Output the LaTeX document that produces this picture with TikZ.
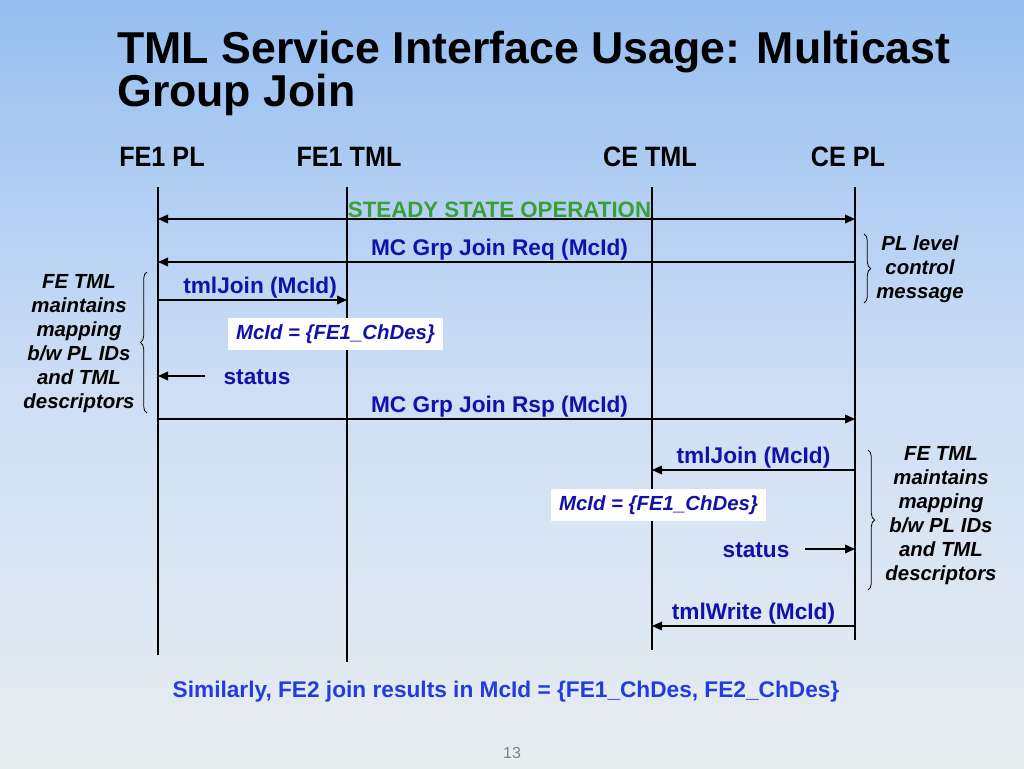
\documentclass[tikz,border=0pt]{standalone}
\usepackage{fontspec}
\setmainfont{Liberation Sans}
\newfontfamily\narrowfont{Liberation Sans}[FakeStretch=0.9]
\usetikzlibrary{arrows.meta,decorations.pathreplacing}

\definecolor{msgblue}{RGB}{18,18,170}
\definecolor{notblue}{RGB}{35,60,225}
\definecolor{stgreen}{RGB}{55,160,55}
\definecolor{skytop}{RGB}{150,190,240}
\definecolor{skymid}{RGB}{205,222,245}
\definecolor{skybot}{RGB}{232,238,240}

\newcommand{\msgfont}{\fontsize{17}{20}\selectfont\bfseries}
\newcommand{\notefont}{\fontsize{15.3}{18}\selectfont\bfseries\itshape}
\newcommand{\titlefont}{\fontsize{33.5}{36}\selectfont\bfseries}

\tikzset{
  lifeline/.style={line width=1.5pt},
  msg/.style={line width=1.1pt, -{Triangle[length=7.5pt,width=6.5pt]}},
  msglabel/.style={font=\msgfont, text=msgblue, inner sep=1pt},
  idbox/.style={fill=white, font=\notefont, text=msgblue, minimum width=161pt, minimum height=24pt, inner sep=0pt},
  note/.style={font=\notefont, align=center, inner sep=0pt},
  curly/.style={decorate, decoration={brace, amplitude=5pt}, line width=0.6pt},
  header/.style={font=\narrowfont\fontsize{21}{24}\selectfont\bfseries, anchor=base}
}

\begin{document}
\begin{tikzpicture}[x=0.75pt,y=-0.75pt]

  % Fondo
  \shade[top color=skytop, bottom color=skybot, middle color=skymid] (0,0) rectangle (1024,768);
  \useasboundingbox (0,0) rectangle (1024,768);

  % Titulo
  \node[anchor=base west, font=\titlefont, inner sep=0pt] (title1) at (117,63) {TML Service Interface Usage: Multicast};
  \node[anchor=base west, font=\titlefont, inner sep=0pt] (title2) at (117,106) {Group Join};

  % Cabeceras
  \node[header] (fplH) at (162,166) {FE1 PL};
  \node[header] (ftmlH) at (349,166) {FE1 TML};
  \node[header] (ctmlH) at (650,166) {CE TML};
  \node[header] (cplH) at (848,166) {CE PL};

  % Lineas de vida
  \coordinate (fpl) at (158,187);   \coordinate (fplB) at (158,655);
  \coordinate (ftml) at (347,187);  \coordinate (ftmlB) at (347,662);
  \coordinate (ctml) at (652,187);  \coordinate (ctmlB) at (652,650);
  \coordinate (cpl) at (855,187);   \coordinate (cplB) at (855,640);
  \draw[lifeline] (fpl) -- (fplB);
  \draw[lifeline] (ftml) -- (ftmlB);
  \draw[lifeline] (ctml) -- (ctmlB);
  \draw[lifeline] (cpl) -- (cplB);

  % Estado estacionario
  \draw[msg, {Triangle[length=7.5pt,width=6.5pt]}-{Triangle[length=7.5pt,width=6.5pt]}] (fpl |- 0,219) -- node[above, pos=0.49, font=\fontsize{16.7}{20}\selectfont\bfseries, text=stgreen, inner sep=0.5pt] (steady) {STEADY STATE OPERATION} (cpl |- 0,219);

  % Mensajes FE1
  \draw[msg] (cpl |- 0,262) -- node[above, msglabel, pos=0.51] (req) {MC Grp Join Req (McId)} (fpl |- 0,262);
  \draw[msg] (fpl |- 0,300) -- node[above, msglabel, pos=0.54] (join1) {tmlJoin (McId)} (ftml |- 0,300);
  \node[idbox] (id1) at (335.5,334) {McId = \{FE1\_ChDes\}};
  \node[msglabel, anchor=west] (st1) at (222,377) {status};
  \coordinate (st1s) at (205,376);
  \draw[msg] (st1s) -- (fpl |- st1s);
  \draw[msg] (fpl |- 0,419) -- node[above, msglabel, pos=0.49] (rsp) {MC Grp Join Rsp (McId)} (cpl |- 0,419);

  % Mensajes CE
  \draw[msg] (cpl |- 0,470) -- node[above, msglabel] (join2) {tmlJoin (McId)} (ctml |- 0,470);
  \node[idbox] (id2) at (658.5,505) {McId = \{FE1\_ChDes\}};
  \node[msglabel, anchor=east] (st2) at (791,550) {status};
  \coordinate (st2s) at (805,549);
  \draw[msg] (st2s) -- (cpl |- st2s);
  \draw[msg] (cpl |- 0,626) -- node[above, msglabel] (write) {tmlWrite (McId)} (ctml |- 0,626);

  % Llaves y notas
  \draw[curly] (864,234) -- (864,303);
  \node[note] (plnote) at (920,269) {PL level\\control\\message};
  \draw[curly] (147,413) -- (147,272);
  \node[note] (fenote1) at (79,344) {FE TML\\maintains\\mapping\\b/w PL IDs\\and TML\\descriptors};
  \draw[curly] (868,450) -- (868,590);
  \node[note] (fenote2) at (941,516) {FE TML\\maintains\\mapping\\b/w PL IDs\\and TML\\descriptors};

  % Nota final
  \node[font=\msgfont, text=notblue, anchor=base] (similar) at (506,697) {Similarly, FE2 join results in McId = \{FE1\_ChDes, FE2\_ChDes\}};
  \node[font=\fontsize{12}{14}\selectfont, text=gray, anchor=base] (page) at (512,758) {13};

\end{tikzpicture}
\end{document}
